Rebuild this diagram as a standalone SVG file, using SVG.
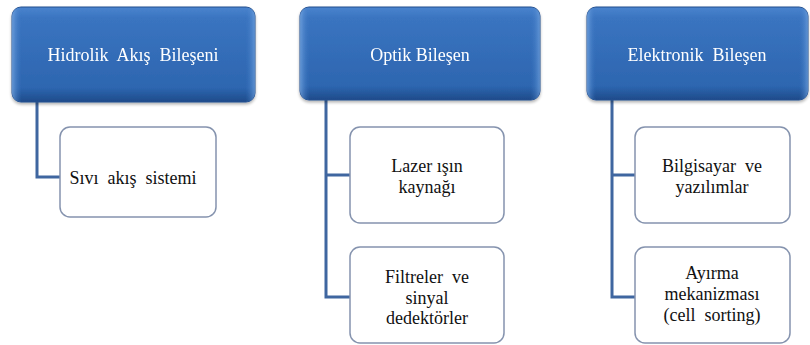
<svg xmlns="http://www.w3.org/2000/svg" width="810" height="345" viewBox="0 0 810 345">
<style>
.top{fill:url(#gTop);stroke:#234F8E;stroke-width:1}
.bevel{fill:url(#gSide)}
.child{fill:#FFFFFF;stroke:#8593AE;stroke-width:1.5}
.tt{font-family:"Liberation Serif",serif;font-size:18px;fill:#FFFFFF;text-anchor:middle}
.ct{font-family:"Liberation Serif",serif;font-size:18px;fill:#111111;text-anchor:middle}
.conn{fill:none;stroke:#3F66A0;stroke-width:3}
</style>
<defs>
<linearGradient id="gTop" x1="0" y1="0" x2="0" y2="1">
<stop offset="0" stop-color="#4A84CE"/>
<stop offset="0.12" stop-color="#3A74C0"/>
<stop offset="0.85" stop-color="#2D66B0"/>
<stop offset="1" stop-color="#1E4B8A"/>
</linearGradient>
<linearGradient id="gSide" x1="0" y1="0" x2="1" y2="0">
<stop offset="0" stop-color="#7FAEE6" stop-opacity="0.7"/>
<stop offset="0.04" stop-color="#3A76C4" stop-opacity="0"/>
<stop offset="0.96" stop-color="#3A76C4" stop-opacity="0"/>
<stop offset="1" stop-color="#7FAEE6" stop-opacity="0.6"/>
</linearGradient>
<filter id="sh" x="-10%" y="-10%" width="120%" height="130%">
<feGaussianBlur in="SourceAlpha" stdDeviation="1.5"/>
<feOffset dx="0" dy="2"/>
<feComponentTransfer><feFuncA type="linear" slope="0.3"/></feComponentTransfer>
<feMerge><feMergeNode/><feMergeNode in="SourceGraphic"/></feMerge>
</filter>
</defs>
<g id="connectors">
<path class="conn" d="M37 102 V177 H60"/>
<path class="conn" d="M326 100 V297 H350 M326 175 H350"/>
<path class="conn" d="M612 100 V297 H635 M612 175 H635"/>
</g>
<g id="n-hidrolik" filter="url(#sh)">
<rect class="top" x="12" y="7" width="243" height="95" rx="9"/>
<rect class="bevel" x="12" y="7" width="243" height="95" rx="9"/>
<text class="tt" x="133" y="61" xml:space="preserve">Hidrolik  Akış  Bileşeni</text>
</g>
<g id="n-optik" filter="url(#sh)">
<rect class="top" x="300" y="7" width="240" height="93" rx="9"/>
<rect class="bevel" x="300" y="7" width="240" height="93" rx="9"/>
<text class="tt" x="420" y="61">Optik Bileşen</text>
</g>
<g id="n-elektronik" filter="url(#sh)">
<rect class="top" x="587" y="7" width="221" height="93" rx="9"/>
<rect class="bevel" x="587" y="7" width="221" height="93" rx="9"/>
<text class="tt" x="697" y="61" xml:space="preserve">Elektronik  Bileşen</text>
</g>
<g id="n-sivi">
<rect class="child" x="60" y="127" width="156" height="90" rx="10"/>
<text class="ct" x="133" y="184" xml:space="preserve">Sıvı  akış  sistemi</text>
</g>
<g id="n-lazer">
<rect class="child" x="350" y="127" width="154" height="96" rx="10"/>
<text class="ct" x="427" y="172">Lazer ışın</text>
<text class="ct" x="427" y="193">kaynağı</text>
</g>
<g id="n-filtre">
<rect class="child" x="350" y="247" width="154" height="96" rx="10"/>
<text class="ct" x="427" y="283" xml:space="preserve">Filtreler  ve</text>
<text class="ct" x="427" y="304">sinyal</text>
<text class="ct" x="427" y="324">dedektörler</text>
</g>
<g id="n-bilgisayar">
<rect class="child" x="635" y="127" width="155" height="96" rx="10"/>
<text class="ct" x="712" y="172" xml:space="preserve">Bilgisayar  ve</text>
<text class="ct" x="712" y="193">yazılımlar</text>
</g>
<g id="n-ayirma">
<rect class="child" x="635" y="247" width="155" height="96" rx="10"/>
<text class="ct" x="712" y="279">Ayırma</text>
<text class="ct" x="712" y="300">mekanizması</text>
<text class="ct" x="712" y="321" xml:space="preserve">(cell  sorting)</text>
</g>
</svg>
